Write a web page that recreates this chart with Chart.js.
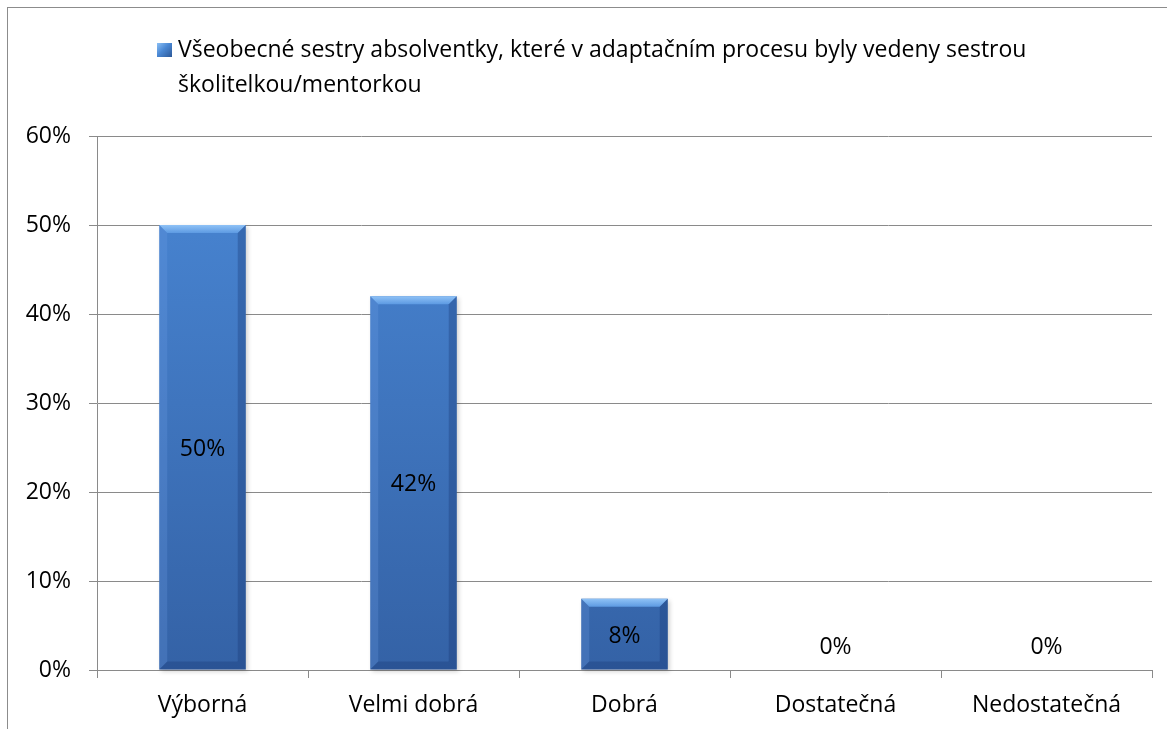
<!DOCTYPE html>
<html>
<head>
<meta charset="utf-8">
<script src="https://cdn.jsdelivr.net/npm/chart.js@4"></script>
<style>
  html, body { margin: 0; padding: 0; background: #fff; }
  #wrap { position: relative; width: 1167px; height: 729px; overflow: hidden; }
  #frame { position: absolute; left: 7px; top: 7px; width: 1200px; height: 800px;
           border-left: 1px solid #8c8c8c; border-top: 1px solid #8c8c8c; }
  #legend { position: absolute; left: 157px; top: 31px; width: 960px;
            font-family: "Open Sans", sans-serif; font-size: 23px; line-height: 35px; color: #000; }
  #legend .box { position: absolute; left: 0; top: 12px; width: 15px; height: 14px;
                 background: linear-gradient(135deg, #8cc0f5 0%, #4a88d4 45%, #2c5898 100%); }
  #legend .txt { margin-left: 21px; }
  canvas { position: absolute; left: 0; top: 0; }
</style>
</head>
<body>
<div id="wrap">
  <div id="frame"></div>
  <canvas id="chart" width="1167" height="729"></canvas>
  <div id="legend"><span class="box"></span><div class="txt" id="legendText"></div></div>
</div>
<script>
const categories = ['Výborná', 'Velmi dobrá', 'Dobrá', 'Dostatečná', 'Nedostatečná'];
const values = [50, 42, 8, 0, 0];
const seriesLabel = 'Všeobecné sestry absolventky, které v adaptačním procesu byly vedeny sestrou školitelkou/mentorkou';
const yTicks = [0, 10, 20, 30, 40, 50, 60];

document.getElementById('legendText').textContent = seriesLabel;

const FONT = '"Open Sans", sans-serif';
const GRID = '#8a8a8a';

function barGradient(context) {
  const chart = context.chart;
  const area = chart.chartArea;
  if (!area) return '#3f76c0';
  const g = chart.ctx.createLinearGradient(0, area.top, 0, area.bottom);
  g.addColorStop(0, '#4a88d6');
  g.addColorStop(1, '#3462a6');
  return g;
}

// bevel + shadow, drawn from the bar elements the library laid out
const bevelPlugin = {
  id: 'bevel',
  beforeDatasetsDraw(chart) {
    const ctx = chart.ctx;
    ctx.save();
    chart.getDatasetMeta(0).data.forEach(bar => {
      const h = bar.base - bar.y;
      if (h <= 0) return;
      const l = bar.x - bar.width / 2;
      ctx.fillStyle = 'rgba(0,0,0,0.18)';
      ctx.filter = 'blur(2px)';
      ctx.fillRect(l + 2, bar.y + 2, bar.width, h);
    });
    ctx.restore();
  },
  afterDatasetsDraw(chart) {
    const ctx = chart.ctx;
    ctx.save();
    chart.getDatasetMeta(0).data.forEach(bar => {
      const h = bar.base - bar.y;
      if (h <= 0) return;
      const l = bar.x - bar.width / 2, r = bar.x + bar.width / 2;
      const t = bar.y, b = bar.base;
      const d = Math.min(8, h / 2);
      // top
      let g = ctx.createLinearGradient(0, t, 0, t + d);
      g.addColorStop(0, '#8fc2f6');
      g.addColorStop(1, '#5d9ae2');
      ctx.fillStyle = g;
      ctx.beginPath(); ctx.moveTo(l, t); ctx.lineTo(r, t); ctx.lineTo(r - d, t + d); ctx.lineTo(l + d, t + d); ctx.closePath(); ctx.fill();
      // left
      ctx.fillStyle = 'rgba(110,160,230,0.25)';
      ctx.beginPath(); ctx.moveTo(l, t); ctx.lineTo(l + d, t + d); ctx.lineTo(l + d, b - d); ctx.lineTo(l, b); ctx.closePath(); ctx.fill();
      // right
      ctx.fillStyle = 'rgba(20,50,110,0.3)';
      ctx.beginPath(); ctx.moveTo(r, t); ctx.lineTo(r - d, t + d); ctx.lineTo(r - d, b - d); ctx.lineTo(r, b); ctx.closePath(); ctx.fill();
      // bottom
      ctx.fillStyle = 'rgba(20,50,110,0.3)';
      ctx.beginPath(); ctx.moveTo(l, b); ctx.lineTo(l + d, b - d); ctx.lineTo(r - d, b - d); ctx.lineTo(r, b); ctx.closePath(); ctx.fill();
    });
    ctx.restore();
  }
};

const valueLabels = {
  id: 'valueLabels',
  afterDatasetsDraw(chart) {
    const ctx = chart.ctx;
    ctx.save();
    ctx.font = '23px ' + FONT;
    ctx.fillStyle = '#000';
    ctx.textAlign = 'center';
    ctx.textBaseline = 'middle';
    chart.getDatasetMeta(0).data.forEach((bar, i) => {
      const y = Math.min((bar.y + bar.base) / 2 + 2, bar.base - 23);
      ctx.fillText(values[i] + '%', bar.x, y);
    });
    ctx.restore();
  }
};

new Chart(document.getElementById('chart'), {
  type: 'bar',
  data: {
    labels: categories,
    datasets: [{
      label: seriesLabel,
      data: values,
      backgroundColor: barGradient,
      borderWidth: 0,
      barPercentage: 0.41,
      categoryPercentage: 1
    }]
  },
  options: {
    responsive: false,
    animation: false,
    layout: { padding: { left: 0, right: 15, top: 136, bottom: 0 } },
    plugins: { legend: { display: false }, tooltip: { enabled: false } },
    scales: {
      x: {
        afterFit: s => { s.height = 59; },
        grid: { drawOnChartArea: false, color: GRID, tickLength: 8, offset: true },
        border: { color: GRID },
        ticks: { color: '#000', font: { family: FONT, size: 23 }, padding: 14 }
      },
      y: {
        min: 0, max: 60,
        afterFit: s => { s.width = 97; },
        afterBuildTicks: s => { s.ticks = yTicks.map(v => ({ value: v })); },
        grid: { color: GRID, tickLength: 8 },
        border: { color: GRID },
        ticks: { color: '#000', font: { family: FONT, size: 23 }, padding: 18, callback: v => v + '%' }
      }
    }
  },
  plugins: [bevelPlugin, valueLabels]
});
</script>
</body>
</html>
